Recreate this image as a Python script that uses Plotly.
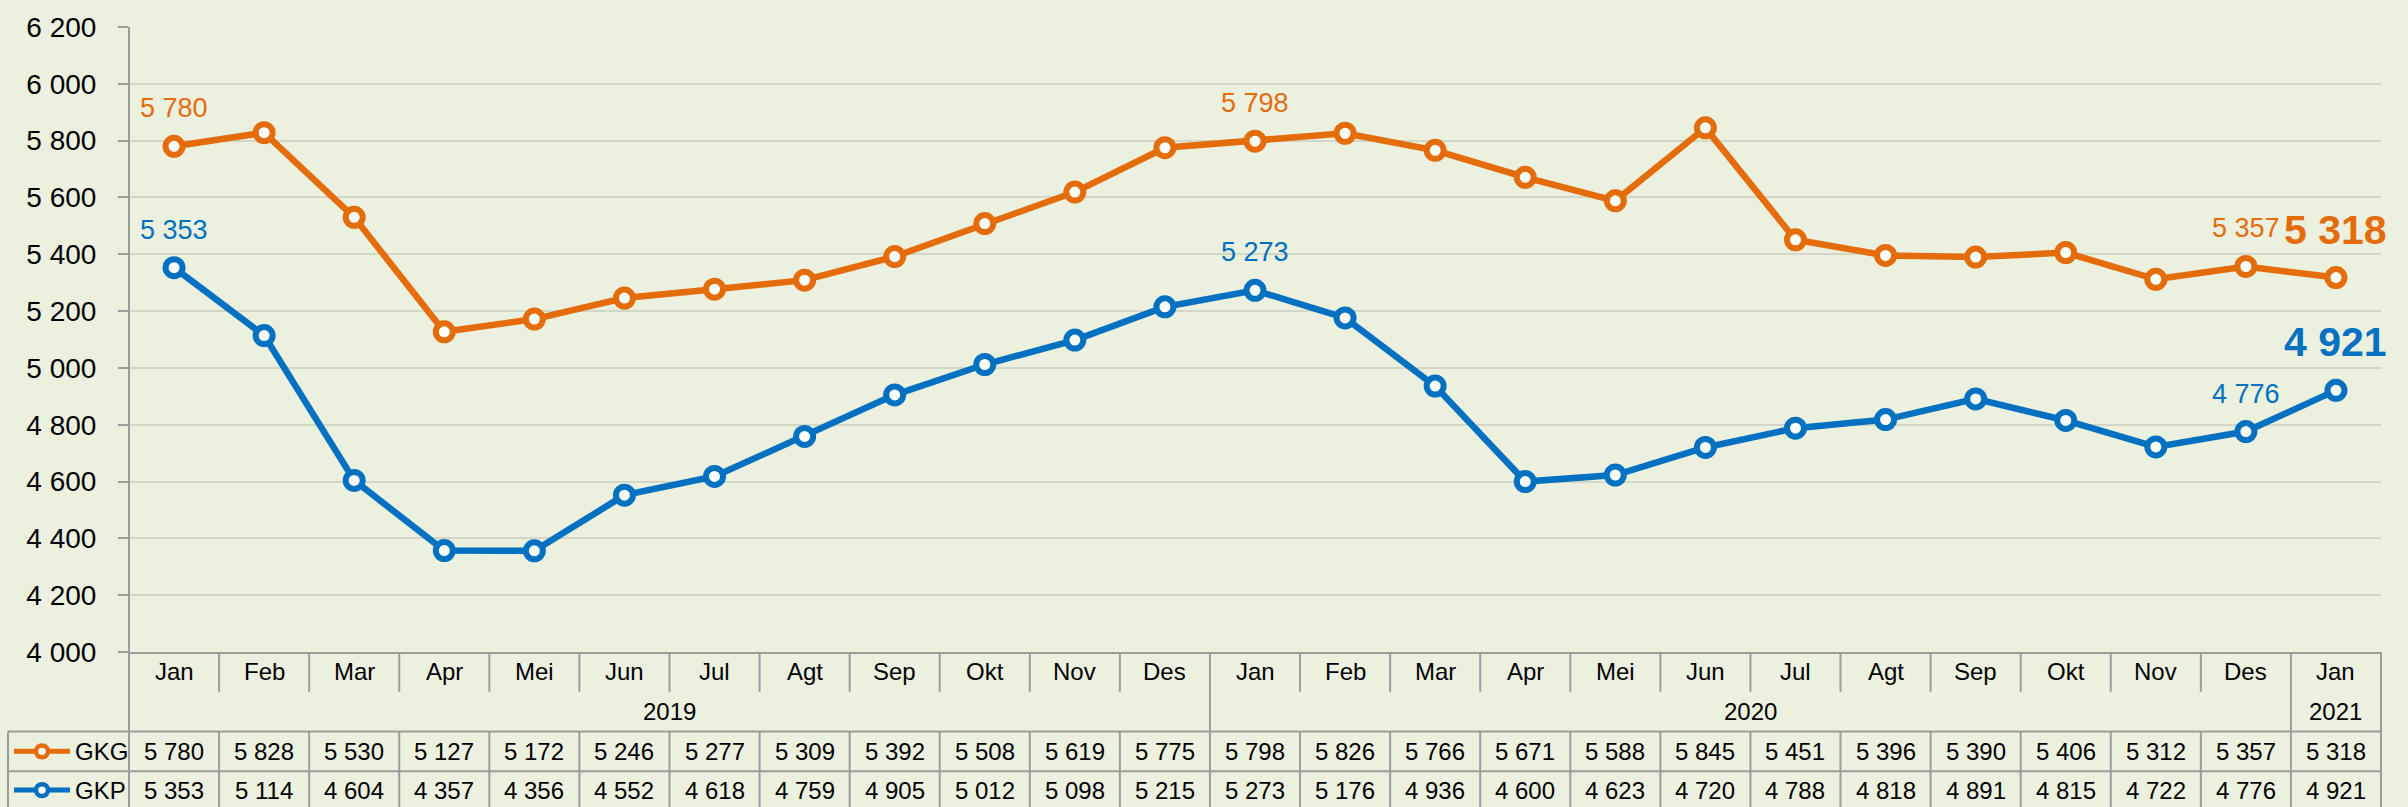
import plotly.graph_objects as go

# ---------------- data ----------------
months = ["Jan", "Feb", "Mar", "Apr", "Mei", "Jun", "Jul", "Agt", "Sep", "Okt", "Nov", "Des",
          "Jan", "Feb", "Mar", "Apr", "Mei", "Jun", "Jul", "Agt", "Sep", "Okt", "Nov", "Des",
          "Jan"]
years = ["2019"] * 12 + ["2020"] * 12 + ["2021"]
gkg = [5780, 5828, 5530, 5127, 5172, 5246, 5277, 5309, 5392, 5508, 5619, 5775,
       5798, 5826, 5766, 5671, 5588, 5845, 5451, 5396, 5390, 5406, 5312, 5357, 5318]
gkp = [5353, 5114, 4604, 4357, 4356, 4552, 4618, 4759, 4905, 5012, 5098, 5215,
       5273, 5176, 4936, 4600, 4623, 4720, 4788, 4818, 4891, 4815, 4722, 4776, 4921]
series_names = ["GKG", "GKP"]
labelled_points = [0, 12, 23]   # small data labels
highlight_point = 24            # big bold data label
y_ticks = list(range(4000, 6201, 200))

# ---------------- style ----------------
W, H = 2408, 807
L, T, R, B = 129, 23, 2381, 652
PW, PH = R - L, B - T
FONT = "Liberation Sans, Arial, sans-serif"
BG = "#EBF0DF"
COLORS = ["#E46C0A", "#0070C0"]
GRID = "#D3D7C7"
LINE = "#9C9C9C"


def fmt(v):
    return f"{v:,}".replace(",", " ")


def py(p):  # pixel y -> paper y
    return (B - p) / PH


def px(p):  # pixel x -> paper x
    return (p - L) / PW


xs = list(range(len(months)))
series = [gkg, gkp]

fig = go.Figure()
for name, vals, col in zip(series_names, series, COLORS):
    fig.add_trace(go.Scatter(
        x=xs, y=vals, name=name, mode="lines+markers", cliponaxis=False,
        line=dict(color=col, width=6.5),
        marker=dict(size=17, color="white", line=dict(color=col, width=6)),
        hoverinfo="skip"))

ann = []
# data labels
for vals, col in zip(series, COLORS):
    for i in labelled_points:
        ann.append(dict(x=xs[i], y=vals[i], xref="x", yref="y", text=fmt(vals[i]),
                        showarrow=False, yshift=38, font=dict(family=FONT, size=27, color=col)))
    i = highlight_point
    ann.append(dict(x=xs[i], y=vals[i], xref="x", yref="y", text=fmt(vals[i]),
                    showarrow=False, yshift=48,
                    font=dict(family=FONT, size=41, color=col, weight="bold")))

TF = dict(family=FONT, size=24, color="black")
# month row
for i, m in enumerate(months):
    ann.append(dict(x=xs[i], y=py(672), xref="x", yref="paper", text=m, showarrow=False,
                    yanchor="middle", font=TF))
# year row
groups = []
start = 0
for i in range(1, len(years) + 1):
    if i == len(years) or years[i] != years[start]:
        groups.append((years[start], start, i - 1))
        start = i
for yr, a, b in groups:
    ann.append(dict(x=(xs[a] + xs[b]) / 2, y=py(712), xref="x", yref="paper", text=yr,
                    showarrow=False, yanchor="middle", font=TF))
# data rows
row_y = [752, 791]
for vals, ry in zip(series, row_y):
    for i, v in enumerate(vals):
        ann.append(dict(x=xs[i], y=py(ry), xref="x", yref="paper", text=fmt(v),
                        showarrow=False, yanchor="middle", font=TF))

shapes = []
lw = dict(color=LINE, width=2)
# y axis line (full height, down through table)
shapes.append(dict(type="line", xref="paper", yref="paper", x0=0, x1=0, y0=1, y1=py(830), line=lw))
# right border of table
shapes.append(dict(type="line", xref="paper", yref="paper", x0=1, x1=1, y0=0, y1=py(830), line=lw))
# horizontal table lines
for hy in [732, 772]:
    shapes.append(dict(type="line", xref="paper", yref="paper", x0=px(8), x1=1,
                       y0=py(hy), y1=py(hy), line=lw))
# left border of table
shapes.append(dict(type="line", xref="paper", yref="paper", x0=px(8), x1=px(8),
                   y0=py(732), y1=py(830), line=lw))
# vertical dividers
for i in range(len(months) - 1):
    bx = xs[i] + 0.5
    if years[i] != years[i + 1]:
        shapes.append(dict(type="line", xref="x", yref="paper", x0=bx, x1=bx,
                           y0=0, y1=py(830), line=lw))
    else:
        shapes.append(dict(type="line", xref="x", yref="paper", x0=bx, x1=bx,
                           y0=0, y1=py(692), line=lw))
        shapes.append(dict(type="line", xref="x", yref="paper", x0=bx, x1=bx,
                           y0=py(732), y1=py(830), line=lw))
# legend keys inside the table
for name, col, ry in zip(series_names, COLORS, row_y):
    shapes.append(dict(type="line", xref="paper", yref="paper", x0=px(14), x1=px(70),
                       y0=py(ry), y1=py(ry), line=dict(color=col, width=5)))
    r = 6
    shapes.append(dict(type="circle", xref="paper", yref="paper",
                       x0=px(42 - r), x1=px(42 + r), y0=py(ry + r), y1=py(ry - r),
                       fillcolor="white", line=dict(color=col, width=4.5)))
    ann.append(dict(x=px(73), y=py(ry), xref="paper", yref="paper", text=name,
                    showarrow=False, xanchor="left", yanchor="middle", font=TF))

fig.update_layout(
    width=W, height=H,
    margin=dict(l=L, r=W - R, t=T, b=H - B, pad=0),
    paper_bgcolor=BG, plot_bgcolor=BG,
    separators=", ",
    showlegend=False,
    annotations=ann, shapes=shapes,
    xaxis=dict(range=[-0.5, len(months) - 0.5], showgrid=False, zeroline=False,
               showticklabels=False, ticks="", showline=True, linecolor=LINE, linewidth=2,
               fixedrange=True),
    yaxis=dict(range=[y_ticks[0], y_ticks[-1]], tickvals=y_ticks, tickformat=",d",
               showgrid=True, gridcolor=GRID, gridwidth=1.5, zeroline=False,
               ticks="outside", ticklen=10, tickcolor=LINE, tickwidth=2,
               ticklabelstandoff=16,
               tickfont=dict(family=FONT, size=28, color="black"),
               showline=False, fixedrange=True),
)

fig.write_html("out.html", config={"displayModeBar": False},
               post_script="document.body.style.margin='0';document.body.style.overflow='hidden';")
